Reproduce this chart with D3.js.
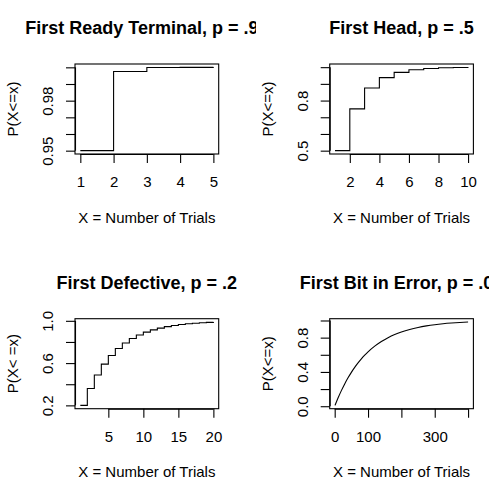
<!DOCTYPE html>
<html>
<head>
<meta charset="utf-8">
<script src="https://cdn.jsdelivr.net/npm/d3@7"></script>
<style>
  html, body { margin: 0; padding: 0; background: #fff; }
  svg { display: block; font-family: "Liberation Sans", Arial, Helvetica, sans-serif; }
</style>
</head>
<body>
<svg id="chart" width="489" height="496"></svg>
<script>
// ---------- data ----------
const titles = ["First Ready Terminal, p = .95", "First Head, p = .5", "First Defective, p = .2", "First Bit in Error, p = .01"];
const yLabels = ["P(X<=x)", "P(X<=x)", "P(X< =x)", "P(X<=x)"];
const xLabel = "X = Number of Trials";

// P(X<=x) for each panel
const trials1 = [1, 2, 3, 4, 5];
const cdf1 = [0.95, 0.9975, 0.999875, 0.99999375, 0.9999997];

const trials2 = [1, 2, 3, 4, 5, 6, 7, 8, 9, 10];
const cdf2 = [0.5, 0.75, 0.875, 0.9375, 0.96875, 0.984375, 0.9921875, 0.99609375, 0.99804688, 0.99902344];

const trials3 = [1, 2, 3, 4, 5, 6, 7, 8, 9, 10, 11, 12, 13, 14, 15, 16, 17, 18, 19, 20];
const cdf3 = [0.2, 0.36, 0.488, 0.5904, 0.67232, 0.737856, 0.790285, 0.832228, 0.865782, 0.892626,
              0.914101, 0.931281, 0.945024, 0.956020, 0.964816, 0.971853, 0.977482, 0.981986, 0.985588, 0.988471];

const trials4 = [1, 10, 20, 30, 40, 50, 60, 70, 80, 90, 100, 120, 140, 160, 180, 200, 225, 250, 275, 300, 325, 350, 375, 400];
const cdf4 = [0.01, 0.0956, 0.1821, 0.2603, 0.3310, 0.3950, 0.4528, 0.5052, 0.5525, 0.5953, 0.6340,
              0.7006, 0.7551, 0.7997, 0.8362, 0.8660, 0.8958, 0.9189, 0.9369, 0.9510, 0.9619, 0.9703, 0.9769, 0.9820];

// tick values and labels
const xTicks1 = [1, 2, 3, 4, 5];            const xTickLabels1 = ["1", "2", "3", "4", "5"];
const xTicks2 = [2, 4, 6, 8, 10];           const xTickLabels2 = ["2", "4", "6", "8", "10"];
const xTicks3 = [5, 10, 15, 20];            const xTickLabels3 = ["5", "10", "15", "20"];
const xTicks4 = [0, 100, 200, 300, 400];    const xTickLabels4 = ["0", "100", "", "300", ""];

const yTicks1 = [0.95, 0.96, 0.97, 0.98, 0.99, 1.00]; const yTickLabels1 = ["0.95", "", "", "0.98", "", ""];
const yTicks2 = [0.5, 0.6, 0.7, 0.8, 0.9, 1.0];       const yTickLabels2 = ["0.5", "", "", "0.8", "", ""];
const yTicks3 = [0.2, 0.4, 0.6, 0.8, 1.0];            const yTickLabels3 = ["0.2", "", "0.6", "", "1.0"];
const yTicks4 = [0.0, 0.2, 0.4, 0.6, 0.8, 1.0];       const yTickLabels4 = ["0.0", "", "0.4", "", "0.8", ""];

const panels = [
  { title: titles[0], ylab: yLabels[0], xs: trials1, ys: cdf1, xt: xTicks1, xtl: xTickLabels1, yt: yTicks1, ytl: yTickLabels1, type: "s" },
  { title: titles[1], ylab: yLabels[1], xs: trials2, ys: cdf2, xt: xTicks2, xtl: xTickLabels2, yt: yTicks2, ytl: yTickLabels2, type: "s" },
  { title: titles[2], ylab: yLabels[2], xs: trials3, ys: cdf3, xt: xTicks3, xtl: xTickLabels3, yt: yTicks3, ytl: yTickLabels3, type: "s" },
  { title: titles[3], ylab: yLabels[3], xs: trials4, ys: cdf4, xt: xTicks4, xtl: xTickLabels4, yt: yTicks4, ytl: yTickLabels4, type: "l" }
];

// ---------- layout ----------
const svg = d3.select("#chart");
const cellW = 254.7, cellH = 254.7;
const plotLeft = 75, plotTop = 64, plotW = 143.7, plotH = 90;
const tickLen = 9;

// clip for first title (cut off in the reference)
svg.append("defs").append("clipPath").attr("id", "clipTitle1")
  .append("rect").attr("x", 0).attr("y", 0).attr("width", 256).attr("height", 60);

function padded(ext) {
  const r = ext[1] - ext[0];
  return [ext[0] - 0.04 * r, ext[1] + 0.04 * r];
}

panels.forEach((p, i) => {
  const col = i % 2, row = Math.floor(i / 2);
  const ox = col * cellW + plotLeft, oy = row * cellH + plotTop;
  const g = svg.append("g").attr("transform", `translate(${ox},${oy})`);

  const x = d3.scaleLinear().domain(padded(d3.extent(p.xs))).range([0, plotW]);
  const y = d3.scaleLinear().domain(padded(d3.extent(p.ys))).range([plotH, 0]);

  // data line
  const line = d3.line()
    .x((d, k) => x(p.xs[k]))
    .y(d => y(d))
    .curve(p.type === "s" ? d3.curveStepAfter : d3.curveMonotoneX);
  g.append("path").datum(p.ys)
    .attr("d", line)
    .attr("fill", "none")
    .attr("stroke", "#000")
    .attr("stroke-width", 1.1);

  // x axis
  const xa = g.append("g").attr("transform", `translate(0,${plotH})`)
    .call(d3.axisBottom(x).tickValues(p.xt).tickSize(tickLen).tickSizeOuter(0)
      .tickFormat((d, k) => p.xtl[k]));
  xa.select(".domain").attr("d", `M${x(p.xt[0])},0.5H${x(p.xt[p.xt.length - 1])}`);
  xa.selectAll("line, .domain").attr("stroke", "#000").attr("stroke-width", 1.1);
  xa.selectAll("text").attr("y", 33.3).attr("dy", 0)
    .attr("font-size", 15).attr("fill", "#000");

  // y axis
  const ya = g.append("g")
    .call(d3.axisLeft(y).tickValues(p.yt).tickSize(tickLen).tickSizeOuter(0)
      .tickFormat((d, k) => p.ytl[k]));
  ya.select(".domain").attr("d", `M0.5,${y(p.yt[0])}V${y(p.yt[p.yt.length - 1])}`);
  ya.selectAll("line, .domain").attr("stroke", "#000").attr("stroke-width", 1.1);
  ya.selectAll("text")
    .attr("x", 0).attr("dy", "0.35em")
    .attr("transform", "translate(-27,0) rotate(-90)")
    .attr("text-anchor", "middle")
    .attr("font-size", 15).attr("fill", "#000");

  // box
  g.append("rect").attr("x", 0).attr("y", 0).attr("width", plotW).attr("height", plotH)
    .attr("fill", "none").attr("stroke", "#000").attr("stroke-width", 1.1);

  // axis titles
  g.append("text").attr("x", plotW / 2).attr("y", plotH + 68.7)
    .attr("text-anchor", "middle").attr("font-size", 15).attr("fill", "#000")
    .text(xLabel);
  g.append("text")
    .attr("transform", `translate(-62,${plotH / 2}) rotate(-90)`)
    .attr("dy", "0.35em")
    .attr("text-anchor", "middle").attr("font-size", 15).attr("fill", "#000")
    .text(p.ylab);

  // main title
  const t = svg.append("text")
    .attr("x", ox + plotW / 2).attr("y", oy - 30)
    .attr("text-anchor", "middle").attr("font-size", 18).attr("font-weight", "bold")
    .attr("fill", "#000")
    .text(p.title);
  if (i === 0) t.attr("clip-path", "url(#clipTitle1)");
});
</script>
</body>
</html>
